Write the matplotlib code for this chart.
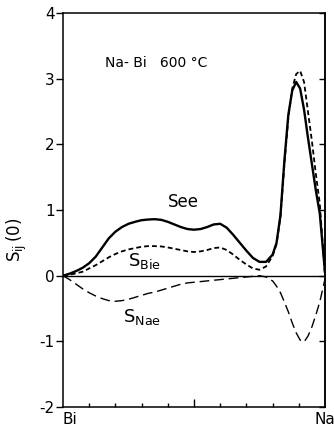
import matplotlib
matplotlib.use("Agg")
import matplotlib.pyplot as plt

plt.rcParams['font.family'] = ['DejaVu Sans']
plt.rcParams['axes.unicode_minus'] = False
plt.rcParams['lines.scale_dashes'] = False

# composition axis: 0 = pure Bi, 1 = pure Na
x = [0, 0.025, 0.05, 0.075, 0.1, 0.125, 0.15, 0.175, 0.2, 0.225, 0.25, 0.275,
     0.3, 0.325, 0.35, 0.375, 0.4, 0.425, 0.45, 0.475, 0.5, 0.525, 0.55, 0.575,
     0.6, 0.625, 0.65, 0.675, 0.7, 0.725, 0.75, 0.775, 0.8, 0.815, 0.83, 0.845,
     0.86, 0.875, 0.89, 0.905, 0.92, 0.935, 0.95, 0.965, 0.98, 1.0]

s_ee = [0, 0.03, 0.07, 0.12, 0.19, 0.29, 0.43, 0.57, 0.67, 0.74, 0.79, 0.82,
        0.845, 0.855, 0.86, 0.85, 0.82, 0.78, 0.74, 0.71, 0.70, 0.71, 0.74, 0.78,
        0.79, 0.73, 0.62, 0.50, 0.38, 0.27, 0.21, 0.21, 0.32, 0.50, 0.92, 1.75,
        2.45, 2.82, 2.95, 2.85, 2.53, 2.10, 1.70, 1.30, 0.95, 0.05]

s_bie = [0, 0.015, 0.035, 0.06, 0.11, 0.16, 0.22, 0.28, 0.33, 0.37, 0.40, 0.42,
         0.44, 0.45, 0.45, 0.445, 0.43, 0.41, 0.39, 0.37, 0.36, 0.37, 0.39, 0.42,
         0.43, 0.39, 0.32, 0.24, 0.17, 0.11, 0.09, 0.14, 0.30, 0.48, 0.90, 1.70,
         2.40, 2.85, 3.07, 3.12, 2.95, 2.50, 2.05, 1.55, 1.10, 0.0]

s_nae = [0, -0.06, -0.13, -0.20, -0.26, -0.31, -0.35, -0.38, -0.39, -0.38, -0.36, -0.33,
         -0.30, -0.27, -0.25, -0.22, -0.19, -0.16, -0.13, -0.11, -0.10, -0.09, -0.08, -0.07,
         -0.06, -0.05, -0.04, -0.03, -0.02, -0.01, 0.0, -0.02, -0.08, -0.16, -0.26, -0.40,
         -0.55, -0.72, -0.87, -0.98, -1.01, -0.92, -0.78, -0.60, -0.40, -0.05]

yticks = [-2, -1, 0, 1, 2, 3, 4]
xticks_short = [0.1, 0.2, 0.3, 0.4, 0.6, 0.7, 0.8, 0.9]
xticks_long = [0.5]
end_labels = ['Bi', 'Na']

fig = plt.figure(figsize=(3.34, 4.29), dpi=100)
ax = fig.add_axes([63/334, 1 - 407/429, 262/334, 394/429])

ax.axhline(0, color='black', lw=1.0)
ax.plot(x, s_ee, color='black', lw=1.7, solid_capstyle='round')
ax.plot(x, s_bie, color='black', lw=1.3, linestyle=(0, (3.5, 2.2)))
ax.plot(x, s_nae, color='black', lw=1.0, linestyle=(0, (7, 3.5)))

ax.set_xlim(0, 1)
ax.set_ylim(-2, 4)
ax.set_yticks(yticks)
ax.set_yticklabels([str(v) for v in yticks], fontsize=11)
ax.tick_params(axis='y', direction='out', length=5, width=1.0, pad=1)

# bottom ticks: short ones as major ticks, the long middle one as a minor tick
ax.xaxis.remove_overlapping_locs = False
ax.set_xticks(xticks_short)
ax.set_xticks(xticks_long, minor=True)
ax.tick_params(axis='x', which='major', direction='in', length=3, width=1.0,
               labelbottom=False, top=False, bottom=True)
ax.tick_params(axis='x', which='minor', direction='in', length=5.5, width=1.0,
               labelbottom=False, top=False, bottom=True)

for sp in ax.spines.values():
    sp.set_linewidth(1.1)

sec = ax.secondary_yaxis('right')
sec.set_yticks(yticks)
sec.tick_params(axis='y', direction='in', length=4, width=1.0, labelright=False)
sec.spines['right'].set_linewidth(1.1)

ax.text(0.0, -0.012, end_labels[0], transform=ax.transAxes, ha='left', va='top', fontsize=11)
ax.text(1.0, -0.012, end_labels[1], transform=ax.transAxes, ha='center', va='top', fontsize=11)

ax.text(0.16, 3.18, 'Na- Bi   600 °C', fontsize=10, va='baseline', ha='left')
ax.text(0.40, 1.045, 'See', fontsize=12, va='baseline', ha='left', fontweight='medium')
ax.text(0.248, 0.14, r'$\mathregular{S_{Bie}}$', fontsize=13, va='baseline', ha='left')
ax.text(0.229, -0.70, r'$\mathregular{S_{Nae}}$', fontsize=13, va='baseline', ha='left')

fig.text(17/334, 1 - 240/429, r'$\mathregular{S_{ij}\,(0)}$', rotation=90,
         ha='center', va='center', fontsize=12)

fig.savefig('out.png', dpi=100)
